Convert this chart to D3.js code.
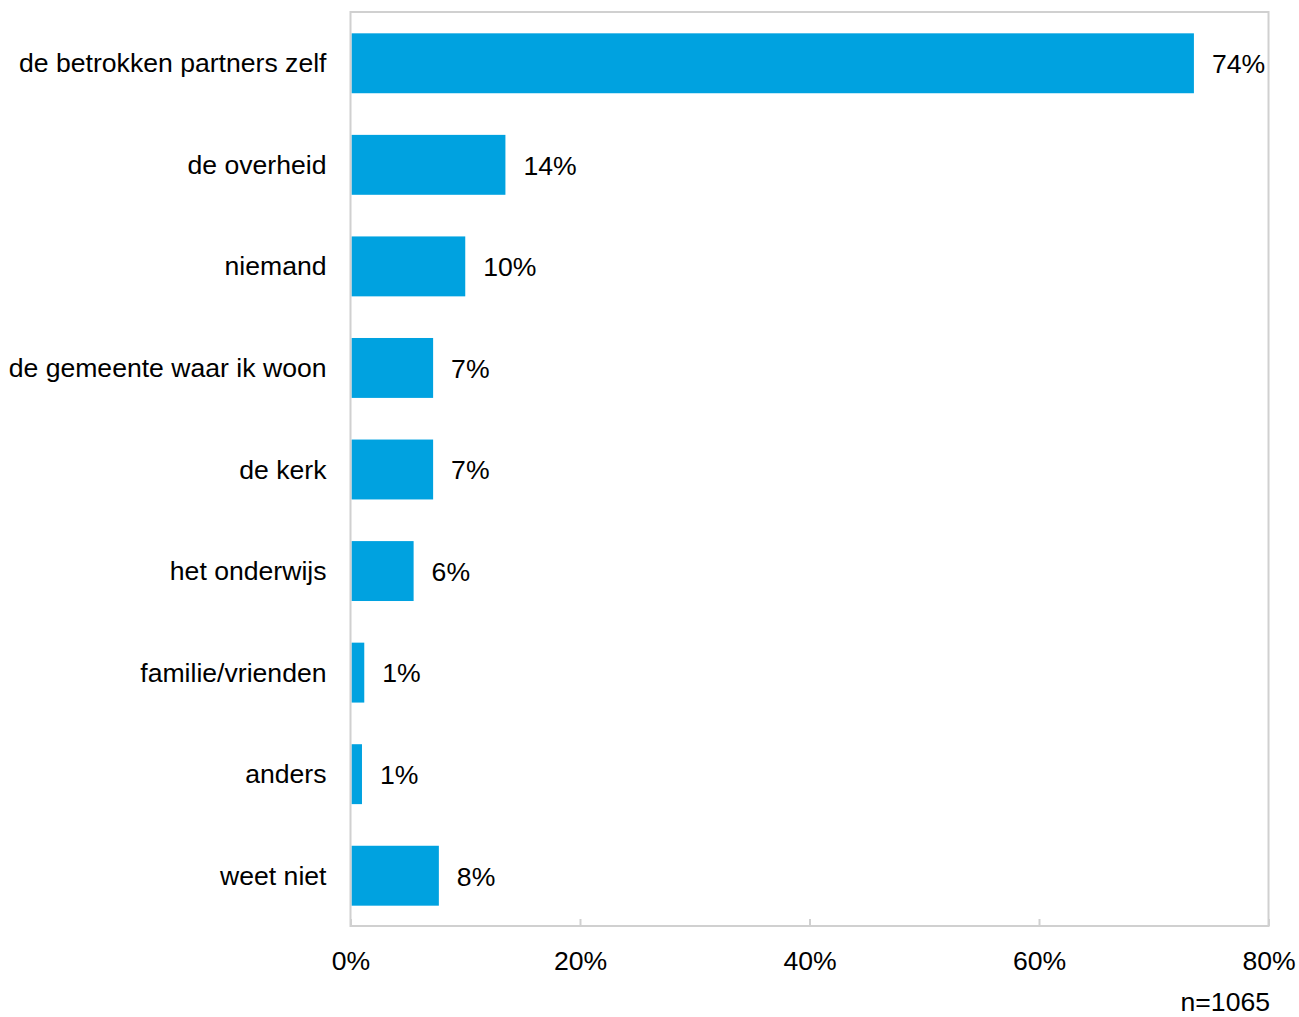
<!DOCTYPE html>
<html>
<head>
<meta charset="utf-8">
<script src="https://cdn.jsdelivr.net/npm/d3@7"></script>
<style>
  html, body { margin: 0; padding: 0; background: #fff; }
  svg { display: block; font-family: Arial, "Liberation Sans", sans-serif; }
</style>
</head>
<body>
<svg id="chart" width="1299" height="1017"></svg>
<script>
const categories = [
  "de betrokken partners zelf",
  "de overheid",
  "niemand",
  "de gemeente waar ik woon",
  "de kerk",
  "het onderwijs",
  "familie/vrienden",
  "anders",
  "weet niet"
];
const values = [73.5, 13.5, 10.0, 7.2, 7.2, 5.5, 1.2, 1.0, 7.7];
const valueLabels = ["74%", "14%", "10%", "7%", "7%", "6%", "1%", "1%", "8%"];
const xTicks = [0, 20, 40, 60, 80];
const note = "n=1065";

(function () {
const svg = d3.select("#chart");
const pLeft = 350.5, pRight = 1268.5, pTop = 12, pBottom = 926;
const fontSize = 26.6;

const x = d3.scaleLinear().domain([0, 80]).range([pLeft, pRight]);
const y = d3.scaleBand().domain(categories).range([pTop, pBottom]).paddingInner(0.41).paddingOuter(0.205);

// bars
svg.append("g").selectAll("rect").data(values).join("rect")
  .attr("x", x(0) + 1)
  .attr("y", (d, i) => y(categories[i]) + 0.5)
  .attr("width", d => Math.max(0, x(d) - x(0) - 1))
  .attr("height", y.bandwidth())
  .attr("fill", "#00a2e0");

// plot frame
svg.append("rect")
  .attr("x", pLeft).attr("y", pTop)
  .attr("width", pRight - pLeft).attr("height", pBottom - pTop)
  .attr("fill", "none").attr("stroke", "#d0d0d0").attr("stroke-width", 2);

// x axis ticks (inward)
const xAxis = d3.axisBottom(x).tickValues(xTicks).tickSizeInner(-7).tickSizeOuter(0)
  .tickFormat(d => d + "%").tickPadding(25);
const gx = svg.append("g").attr("transform", `translate(0,${pBottom})`).call(xAxis);
gx.select(".domain").remove();
gx.selectAll(".tick line").attr("stroke", "#d0d0d0").attr("stroke-width", 2);
gx.selectAll(".tick text").attr("font-size", fontSize).attr("fill", "#000")
  .attr("font-family", "Arial, 'Liberation Sans', sans-serif");

// y axis labels
const yAxis = d3.axisLeft(y).tickSize(0).tickPadding(24);
const gy = svg.append("g").attr("transform", `translate(${pLeft},1)`).call(yAxis);
gy.select(".domain").remove();
gy.selectAll(".tick text").attr("font-size", fontSize).attr("fill", "#000")
  .attr("font-family", "Arial, 'Liberation Sans', sans-serif");

// value labels
svg.append("g").selectAll("text").data(values).join("text")
  .attr("x", d => x(d) + 18)
  .attr("y", (d, i) => y(categories[i]) + y.bandwidth() / 2 + 1)
  .attr("dy", "0.35em")
  .attr("font-size", fontSize)
  .attr("fill", "#000")
  .text((d, i) => valueLabels[i]);

// note
svg.append("text")
  .attr("x", 1270).attr("y", 1011)
  .attr("text-anchor", "end")
  .attr("font-size", fontSize)
  .attr("fill", "#000")
  .text(note);
})();
</script>
</body>
</html>
